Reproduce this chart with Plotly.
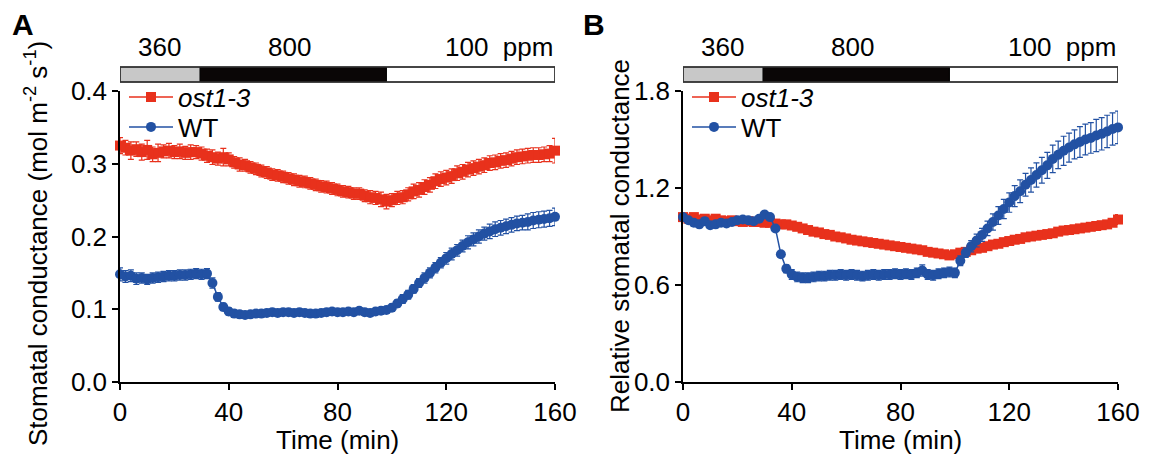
import plotly.graph_objects as go

# ---------------- data ----------------
time_min = list(range(0, 161, 2))

ost_A = [0.325, 0.322, 0.318, 0.320, 0.316, 0.319, 0.313, 0.315, 0.317, 0.318,
         0.316, 0.317, 0.315, 0.316, 0.316, 0.314, 0.311, 0.309, 0.307, 0.309,
         0.306, 0.302, 0.299, 0.298, 0.295, 0.293, 0.290, 0.288, 0.285, 0.284,
         0.282, 0.280, 0.278, 0.276, 0.275, 0.273, 0.271, 0.269, 0.268, 0.266,
         0.264, 0.262, 0.261, 0.259, 0.259, 0.256, 0.254, 0.253, 0.251, 0.248,
         0.250, 0.253, 0.254, 0.258, 0.262, 0.264, 0.268, 0.271, 0.276, 0.279,
         0.281, 0.283, 0.287, 0.289, 0.292, 0.294, 0.296, 0.298, 0.301, 0.302,
         0.304, 0.305, 0.307, 0.309, 0.310, 0.311, 0.312, 0.312, 0.313, 0.314,
         0.318]
ost_A_err = [0.011, 0.010, 0.012, 0.010, 0.011, 0.013, 0.010, 0.012, 0.009, 0.010,
             0.009, 0.010, 0.009, 0.010, 0.009, 0.009, 0.009, 0.010, 0.009, 0.012,
             0.009, 0.008, 0.009, 0.008, 0.008, 0.008, 0.008, 0.008, 0.008, 0.008,
             0.008, 0.008, 0.008, 0.008, 0.008, 0.008, 0.008, 0.008, 0.008, 0.008,
             0.008, 0.008, 0.008, 0.008, 0.008, 0.008, 0.009, 0.009, 0.010, 0.010,
             0.009, 0.009, 0.009, 0.009, 0.010, 0.010, 0.010, 0.010, 0.010, 0.010,
             0.010, 0.010, 0.010, 0.010, 0.010, 0.010, 0.010, 0.010, 0.010, 0.010,
             0.010, 0.010, 0.010, 0.010, 0.010, 0.010, 0.010, 0.010, 0.010, 0.011,
             0.017]

wt_A = [0.148, 0.145, 0.146, 0.142, 0.143, 0.141, 0.143, 0.144, 0.145, 0.146,
        0.146, 0.147, 0.147, 0.148, 0.149, 0.148, 0.149, 0.136, 0.117, 0.103,
        0.097, 0.094, 0.093, 0.092, 0.093, 0.094, 0.094, 0.095, 0.096, 0.095,
        0.096, 0.096, 0.095, 0.096, 0.095, 0.094, 0.094, 0.095, 0.096, 0.097,
        0.096, 0.096, 0.097, 0.096, 0.098, 0.096, 0.095, 0.097, 0.098, 0.099,
        0.102, 0.108, 0.114, 0.120, 0.128, 0.136, 0.143, 0.150, 0.157, 0.164,
        0.170, 0.176, 0.181, 0.187, 0.192, 0.196, 0.200, 0.204, 0.207, 0.210,
        0.212, 0.214, 0.216, 0.218, 0.219, 0.220, 0.222, 0.223, 0.224, 0.225,
        0.227]
wt_A_err = [0.009, 0.008, 0.008, 0.008, 0.007, 0.007, 0.007, 0.007, 0.007, 0.007,
            0.007, 0.007, 0.007, 0.007, 0.007, 0.007, 0.007, 0.007, 0.006, 0.005,
            0.005, 0.005, 0.005, 0.004, 0.004, 0.004, 0.004, 0.004, 0.004, 0.004,
            0.004, 0.004, 0.004, 0.004, 0.004, 0.004, 0.004, 0.004, 0.004, 0.004,
            0.004, 0.004, 0.004, 0.004, 0.004, 0.004, 0.004, 0.004, 0.004, 0.004,
            0.005, 0.005, 0.006, 0.006, 0.006, 0.006, 0.007, 0.007, 0.007, 0.007,
            0.008, 0.008, 0.008, 0.008, 0.009, 0.009, 0.009, 0.009, 0.010, 0.010,
            0.010, 0.010, 0.010, 0.010, 0.010, 0.011, 0.011, 0.011, 0.011, 0.011,
            0.012]

ost_B = [1.020, 1.010, 1.020, 1.005, 1.010, 1.000, 1.010, 1.000, 0.995, 1.000,
         0.995, 0.990, 0.995, 0.990, 0.990, 0.985, 0.985, 0.980, 0.975, 0.975,
         0.968, 0.960, 0.950, 0.940, 0.930, 0.925, 0.915, 0.910, 0.900, 0.895,
         0.888, 0.880, 0.875, 0.870, 0.865, 0.860, 0.855, 0.850, 0.845, 0.840,
         0.835, 0.830, 0.825, 0.820, 0.815, 0.805, 0.800, 0.795, 0.790, 0.783,
         0.790, 0.800, 0.805, 0.815, 0.825, 0.830, 0.840, 0.850, 0.855, 0.865,
         0.872, 0.880, 0.885, 0.895, 0.900, 0.905, 0.910, 0.915, 0.920, 0.930,
         0.937, 0.940, 0.945, 0.950, 0.955, 0.960, 0.965, 0.970, 0.975, 0.985,
         1.005]
ost_B_err = [0.012] * 79 + [0.015, 0.030]

wt_B = [1.020, 1.000, 0.985, 0.975, 0.995, 0.970, 0.975, 0.985, 0.980, 0.990,
        1.000, 1.005, 1.000, 0.995, 1.010, 1.036, 1.020, 0.950, 0.790, 0.700,
        0.665, 0.650, 0.645, 0.645, 0.650, 0.655, 0.655, 0.660, 0.660, 0.665,
        0.660, 0.665, 0.660, 0.655, 0.660, 0.665, 0.660, 0.665, 0.665, 0.670,
        0.665, 0.670, 0.665, 0.675, 0.690, 0.665, 0.660, 0.670, 0.675, 0.680,
        0.675, 0.750, 0.800, 0.840, 0.875, 0.910, 0.950, 0.990, 1.030, 1.070,
        1.110, 1.150, 1.180, 1.220, 1.250, 1.280, 1.310, 1.340, 1.380, 1.405,
        1.430, 1.450, 1.470, 1.485, 1.500, 1.510, 1.525, 1.535, 1.550, 1.565,
        1.575]
wt_B_err = [0.010, 0.010, 0.010, 0.010, 0.010, 0.010, 0.010, 0.010, 0.010, 0.010,
            0.010, 0.010, 0.010, 0.010, 0.010, 0.010, 0.010, 0.010, 0.015, 0.025,
            0.030, 0.030, 0.030, 0.030, 0.030, 0.030, 0.030, 0.030, 0.030, 0.030,
            0.030, 0.030, 0.030, 0.030, 0.030, 0.030, 0.030, 0.030, 0.030, 0.030,
            0.030, 0.030, 0.030, 0.030, 0.035, 0.030, 0.030, 0.030, 0.030, 0.030,
            0.030, 0.030, 0.030, 0.035, 0.040, 0.040, 0.045, 0.050, 0.055, 0.060,
            0.060, 0.065, 0.070, 0.070, 0.075, 0.075, 0.080, 0.080, 0.085, 0.085,
            0.090, 0.090, 0.090, 0.095, 0.095, 0.095, 0.100, 0.100, 0.100, 0.100,
            0.100]

co2_labels = ["360", "800", "100  ppm"]
co2_start = [0, 29.5, 98]
co2_end = [29.5, 98, 160]
co2_fill = ["#c8c8c8", "#0a0606", "#ffffff"]

RED = "#e8311c"
BLUE = "#2251a3"
FONT = "Arial, Liberation Sans, sans-serif"
FS = 26

# page body has an 8 px margin; size the figure to fit the window exactly
OFF = 8
W, H = 1149 - OFF, 457 - OFF


def sx(px):
    return (px - OFF) / W


def py(px):
    return (H - (px - OFF)) / H


fig = go.Figure()


def add_series(x, y, err, name, color, symbol, xa, ya, legend):
    fig.add_trace(go.Scatter(
        x=x, y=y, name=name, mode="lines+markers",
        xaxis=xa, yaxis=ya, legend=legend, showlegend=True,
        line=dict(color=color, width=1.5),
        marker=dict(color=color, symbol=symbol, size=10),
        error_y=dict(type="data", array=err, color=color, thickness=1.2, width=3),
        cliponaxis=False,
    ))


add_series(time_min, ost_A, ost_A_err, "<i>ost1-3</i>", RED, "square", "x", "y", "legend")
add_series(time_min, wt_A, wt_A_err, "WT", BLUE, "circle", "x", "y", "legend2")
add_series(time_min, ost_B, ost_B_err, "<i>ost1-3</i>", RED, "square", "x2", "y2", "legend3")
add_series(time_min, wt_B, wt_B_err, "WT", BLUE, "circle", "x2", "y2", "legend4")

Y0, Y1 = py(382), py(91)
XA = (sx(120), sx(555))
XB = (sx(683), sx(1118))

axis_common = dict(showline=True, linecolor="black", linewidth=1.5, ticks="outside",
                   ticklen=6, tickwidth=1.5, tickcolor="black", showgrid=False,
                   zeroline=False, automargin=False,
                   tickfont=dict(family=FONT, size=FS, color="black"))


def leg(xpx, ypx):
    return dict(x=sx(xpx), y=py(ypx), xanchor="left", yanchor="middle",
                bgcolor="rgba(0,0,0,0)", font=dict(family=FONT, size=FS),
                itemwidth=44, borderwidth=0, visible=True)


fig.update_layout(
    template="none",
    showlegend=True,
    width=W, height=H, margin=dict(l=0, r=0, t=0, b=0, autoexpand=False),
    paper_bgcolor="white", plot_bgcolor="white",
    font=dict(family=FONT, color="black"),
    xaxis=dict(domain=list(XA), range=[0, 160], tickvals=[0, 40, 80, 120, 160],
               anchor="y", **axis_common),
    yaxis=dict(domain=[Y0, Y1], range=[0, 0.4], tickvals=[0, 0.1, 0.2, 0.3, 0.4],
               tickformat=".1f", anchor="x", **axis_common),
    xaxis2=dict(domain=list(XB), range=[0, 160], tickvals=[0, 40, 80, 120, 160],
                anchor="y2", **axis_common),
    yaxis2=dict(domain=[Y0, Y1], range=[0, 1.8], tickvals=[0, 0.6, 1.2, 1.8],
                tickformat=".1f", anchor="x2", **axis_common),
    legend=leg(124, 97),
    legend2=leg(124, 127),
    legend3=leg(687, 97),
    legend4=leg(687, 127),
)

# CO2 bars and labels
bar_y0, bar_y1 = py(82), py(67)
for xr in ("x", "x2"):
    for s, e, c in zip(co2_start, co2_end, co2_fill):
        fig.add_shape(type="rect", xref=xr, yref="paper", x0=s, x1=e, y0=bar_y0, y1=bar_y1,
                      fillcolor=c, line=dict(color="black", width=1), layer="above")
    fig.add_shape(type="rect", xref=xr, yref="paper", x0=0, x1=160, y0=bar_y0, y1=bar_y1,
                  fillcolor="rgba(0,0,0,0)", line=dict(color="#333", width=1.5))
    lab_y = py(47)
    fig.add_annotation(x=14.7, y=lab_y, xref=xr, yref="paper", text=co2_labels[0],
                       showarrow=False, xanchor="center", yanchor="middle",
                       font=dict(size=FS, family=FONT))
    fig.add_annotation(x=62.5, y=lab_y, xref=xr, yref="paper", text=co2_labels[1],
                       showarrow=False, xanchor="center", yanchor="middle",
                       font=dict(size=FS, family=FONT))
    fig.add_annotation(x=160, y=lab_y, xref=xr, yref="paper", text=co2_labels[2],
                       showarrow=False, xanchor="right", yanchor="middle",
                       font=dict(size=FS, family=FONT))
    # x titles
    fig.add_annotation(x=80, y=py(440), xref=xr, yref="paper", text="Time (min)",
                       showarrow=False, xanchor="center", yanchor="middle",
                       borderpad=0, font=dict(size=FS, family=FONT))

# y titles
fig.add_annotation(x=sx(36), y=py(244), xref="paper", yref="paper",
                   text="Stomatal conductance (mol m<sup>-2</sup> s<sup>-1</sup>)",
                   textangle=-90, showarrow=False, xanchor="center", yanchor="middle",
                   font=dict(size=FS, family=FONT))
fig.add_annotation(x=sx(620), y=py(236), xref="paper", yref="paper",
                   text="Relative stomatal conductance",
                   textangle=-90, showarrow=False, xanchor="center", yanchor="middle",
                   font=dict(size=FS, family=FONT))

# panel letters
fig.add_annotation(x=sx(23), y=py(25), xref="paper", yref="paper", text="<b>A</b>",
                   showarrow=False, xanchor="center", yanchor="middle", borderpad=0,
                   font=dict(size=30, family=FONT))
fig.add_annotation(x=sx(594), y=py(25), xref="paper", yref="paper", text="<b>B</b>",
                   showarrow=False, xanchor="center", yanchor="middle", borderpad=0,
                   font=dict(size=30, family=FONT))

fig.write_html("out.html")
